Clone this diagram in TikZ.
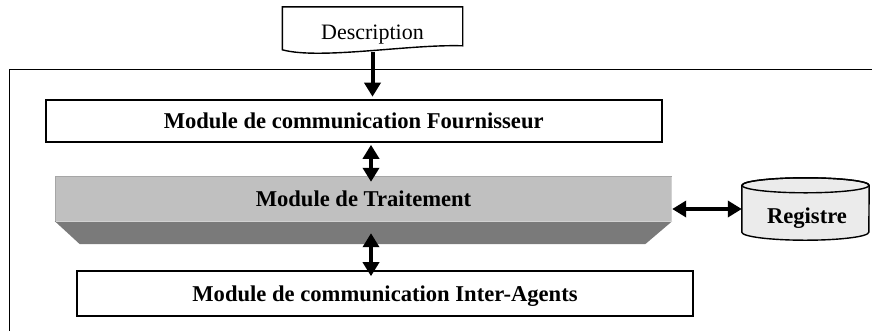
\documentclass[tikz,border=0pt]{standalone}
\usepackage{fontspec}
\setmainfont{Liberation Serif}
\usetikzlibrary{arrows.meta,calc}
\definecolor{lightslab}{HTML}{C0C0C0}
\definecolor{darkslab}{HTML}{7A7A7A}
\definecolor{slabedge}{HTML}{A6A6A6}
\definecolor{slabhi}{HTML}{D2D2D2}
\definecolor{cylfill}{HTML}{EBEBEB}
\begin{document}
\begin{tikzpicture}[x=1pt,y=-1pt,
  boldfont/.style={font=\fontsize{22.6}{27}\selectfont\bfseries},
  modbox/.style={draw, line width=1.6pt, inner sep=0pt, text depth=0pt, minimum width=616pt, boldfont},
  biarrow/.style={line width=4pt, {Triangle[length=14pt,width=16pt]}-{Triangle[length=14pt,width=16pt]}},
  onearrow/.style={line width=4pt, -{Triangle[length=14pt,width=16pt]}},
  frameline/.style={line width=1.6pt}
]
\useasboundingbox (0,0) rectangle (872,330);

% outer frame
\draw[frameline] (874,69.5) -- (9.5,69.5) -- (9.5,332);

% Description document
\node[inner sep=0pt, minimum width=180pt, minimum height=45pt, text height=19pt, text depth=0pt,
      font=\fontsize{22}{26}\selectfont] (desc) at (372.5,29.5) {Description};
\draw[line width=1.4pt] (desc.north west) -- (desc.north east) -- ($(desc.north east)+(0,39)$)
  .. controls (410,44) and (320,60) .. ($(desc.north west)+(0,43)$) -- cycle;

% modules
\node[modbox, minimum height=42pt] (four) at (353.7,121) {Module de communication Fournisseur};
\node[modbox, minimum height=45pt] (inter) at (385,293.5) {Module de communication Inter-Agents};

% Module de Traitement (bevelled slab)
\node[fill=lightslab, inner sep=0pt, text depth=0pt, minimum width=617pt, minimum height=45pt, boldfont]
  (trait) at (363.5,198.5) {Module de Traitement};
\fill[darkslab] (trait.south west) -- (trait.south east) -- ($(trait.south east)+(-27,23)$)
  -- ($(trait.south west)+(25,23)$) -- cycle;
\draw[slabhi, line width=1.2pt] ($(trait.south west)+(1,0)$) -- ($(trait.south east)+(-0.6,0)$) -- ($(trait.north east)+(-0.6,1)$);
\draw[slabedge, line width=1.5pt] ($(trait.south west)+(0.75,0)$) -- ($(trait.north west)+(0.75,0.75)$) -- ($(trait.north east)+(0,0.75)$);

% Registre cylinder
\node[inner sep=0pt, minimum width=127pt, minimum height=62pt] (reg) at (805.5,209) {};
\filldraw[fill=cylfill, line width=1.4pt]
  ($(reg.north west)+(0,7.5)$) -- ($(reg.south west)+(0,-8)$)
  arc[start angle=180, end angle=360, x radius=63.5pt, y radius=8pt]
  -- ($(reg.north east)+(0,7.5)$)
  arc[start angle=0, end angle=180, x radius=63.5pt, y radius=7.5pt] -- cycle;
\draw[line width=1.4pt] ($(reg.north)+(0,7.5)$) ellipse[x radius=63.5pt, y radius=7.5pt];
\node[boldfont, anchor=base, inner sep=0pt] (regl) at (807,223) {Registre};

% connectors
\draw[onearrow, shorten >=2.5pt] (desc.south) -- (desc.south |- four.north);
\draw[biarrow, shorten <=2pt, shorten >=-6pt] ($(desc.south |- four.south)+(-1.5,0)$) -- ($(desc.south |- trait.north)+(-1.5,0)$);
\draw[biarrow, shorten <=12pt, shorten >=-6pt] ($(desc.south |- trait.south)+(-1.5,0)$) -- ($(desc.south |- inter.north)+(-1.5,0)$);
\draw[biarrow] (trait.east |- reg.center) -- (reg.west);
\end{tikzpicture}
\end{document}
